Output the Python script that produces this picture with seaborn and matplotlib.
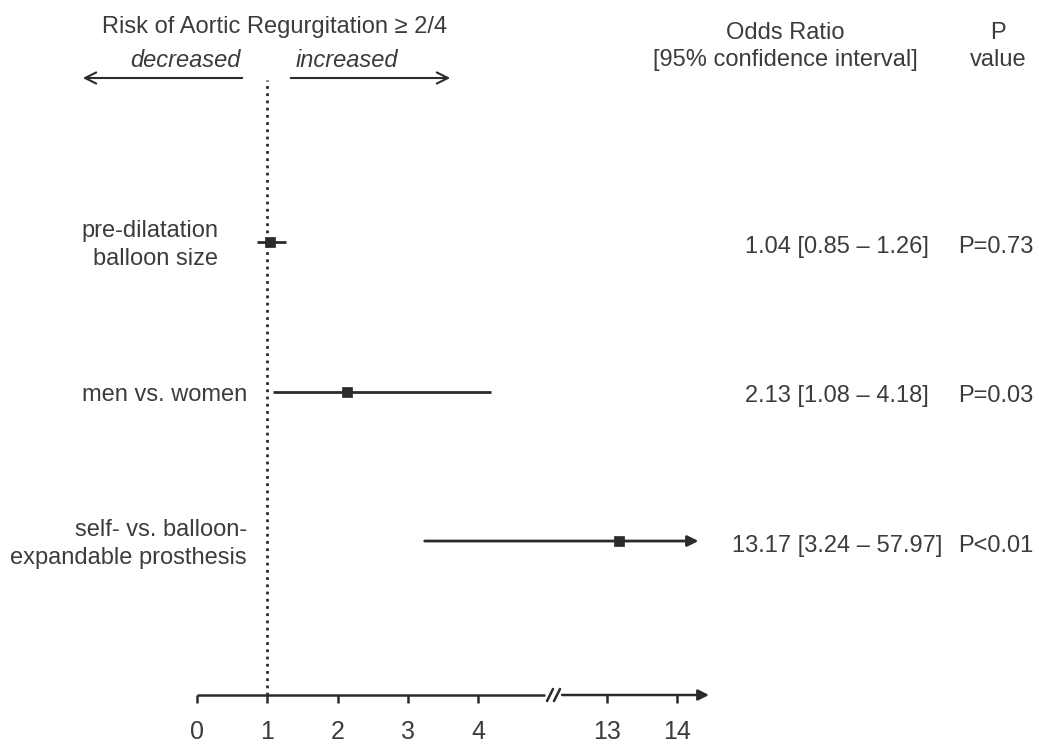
import numpy as np
import pandas as pd
import matplotlib
matplotlib.use("Agg")
import matplotlib.pyplot as plt
import matplotlib.transforms as mtransforms
import seaborn as sns

# ---- data ----
labels = ["pre-dilatation\nballoon size", "men vs. women",
          "self- vs. balloon-\nexpandable prosthesis"]
odds = [1.04, 2.13, 13.17]
ci_low = [0.85, 1.08, 3.24]
ci_high = [1.26, 4.18, 57.97]
p_text = ["P=0.73", "P=0.03", "P<0.01"]
xticks = [0, 1, 2, 3, 4, 13, 14]

df = pd.DataFrame({"row": range(len(labels)), "label": labels,
                   "odds": odds, "lo": ci_low, "hi": ci_high, "p": p_text})

INK = "#2b2b2b"
TXT = "#3c3c3c"
W, H = 1039, 746
X_MAX = 14.45      # end of the x axis arrow
ARROW_END = 14.3   # CI that runs off the scale is cut here

# broken axis: 0-5 linear, then jump straight to ~12.3
BRK_DATA = [-10, 4.95, 12.3, 100]
BRK_LIN = [-10, 4.95, 5.135, 92.835]


def fwd(x):
    return np.interp(x, BRK_DATA, BRK_LIN)


def inv(x):
    return np.interp(x, BRK_LIN, BRK_DATA)


sns.set_theme(style="white")
plt.rcParams["font.family"] = ["Liberation Sans", "DejaVu Sans"]

fig = plt.figure(figsize=(W / 100, H / 100), dpi=100)
ax = fig.add_axes([197 / W, (H - 695) / H, (709 - 197) / W, (695 - 80) / H])
ax.set_xscale("function", functions=(fwd, inv))
ax.set_xlim(0, X_MAX)
ax.set_ylim(3.03, -1.084)

# reference line at OR = 1
ax.axvline(1, ls=(0, (1, 1.6)), lw=2, color=INK, zorder=1)

# confidence intervals
for r in df.itertuples():
    if r.hi <= X_MAX:
        ax.hlines(r.row, r.lo, r.hi, color=INK, lw=2, zorder=2)
    else:
        ax.annotate("", xy=(ARROW_END, r.row), xytext=(r.lo, r.row),
                    arrowprops=dict(arrowstyle="-|>", color=INK, lw=2,
                                    mutation_scale=16, shrinkA=0, shrinkB=0))

sns.scatterplot(data=df, x="odds", y="row", marker="s", s=45, color=INK,
                edgecolor=INK, linewidth=0.5, ax=ax, zorder=3, legend=False)
ax.set(xlabel="", ylabel="")

# axis look
for s in ax.spines.values():
    s.set_visible(False)
ax.set_yticks([])
ax.set_xticks(xticks)
ax.set_xticklabels([str(t) for t in xticks])
ax.tick_params(axis="x", direction="out", length=6, width=1.8, color=INK,
               labelsize=18, labelcolor=TXT, pad=12, bottom=True)

xax = ax.get_xaxis_transform()
ax.plot([0, 4.97], [0, 0], transform=xax, color=INK, lw=1.8,
        clip_on=False, solid_capstyle="butt")
ax.annotate("", xy=(X_MAX, 0), xytext=(12.36, 0), xycoords=xax, textcoords=xax,
            arrowprops=dict(arrowstyle="-|>", color=INK, lw=1.8,
                            mutation_scale=16, shrinkA=0, shrinkB=0),
            annotation_clip=False)

# "//" break marks
ax_w, ax_h = 709 - 197, 695 - 80
for xb in (550, 557):
    ax.plot([(xb - 3 - 197) / ax_w, (xb + 3 - 197) / ax_w], [-6 / ax_h, 6 / ax_h],
            transform=ax.transAxes, color=INK, lw=1.8, clip_on=False)

# row labels and numbers
fig_y = mtransforms.blended_transform_factory(fig.transFigure, ax.transData)
label_right = [218, 247, 247]
for r, xr in zip(df.itertuples(), label_right):
    ax.text(xr / W, r.row + 0.02, r.label, transform=fig_y, ha="right",
            va="center", fontsize=17, color=TXT, linespacing=1.32)
    ax.text(837 / W, r.row + 0.03, f"{r.odds:.2f} [{r.lo:.2f} \u2013 {r.hi:.2f}]",
            transform=fig_y, ha="center", va="center", fontsize=17, color=TXT)
    ax.text(958 / W, r.row + 0.03, r.p, transform=fig_y, ha="left",
            va="center", fontsize=17, color=TXT)


# header
def ftext(x, y, s, **kw):
    fig.text(x / W, 1 - y / H, s, fontsize=17, color=TXT, va="baseline", **kw)


ftext(275, 33, "Risk of Aortic Regurgitation \u2265 2/4", ha="center")
ftext(185, 67, "decreased", ha="center", style="italic")
ftext(347, 67, "increased", ha="center", style="italic")
ftext(785, 39, "Odds Ratio", ha="center")
ftext(785, 66, "[95% confidence interval]", ha="center")
ftext(998, 39, "P", ha="center")
ftext(998, 66, "value", ha="center")

for x0, x1 in [(245, 80), (288, 453)]:
    fig.add_artist(matplotlib.patches.FancyArrowPatch(
        (x0 / W, 1 - 78 / H), (x1 / W, 1 - 78 / H), transform=fig.transFigure,
        arrowstyle="->", mutation_scale=20, lw=1.5, color=INK))

fig.savefig("out.png", dpi=100)
